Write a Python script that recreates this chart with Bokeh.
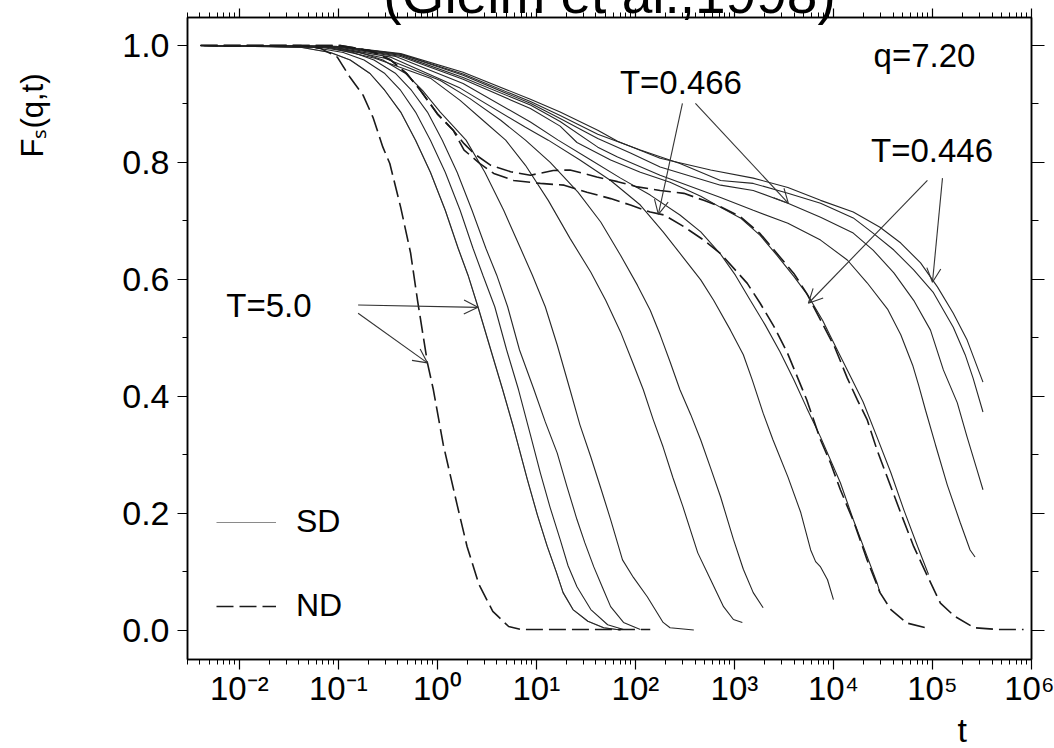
from bokeh.plotting import figure
from bokeh.models import (FixedTicker, LogAxis, LinearAxis, Range1d, Label, Arrow, Title,
                          OpenHead, Legend, LegendItem, NumeralTickFormatter)
from bokeh.embed import file_html
from bokeh.resources import INLINE

# ---------------- data: log10(t) and F_s(q,t) ----------------
# Newtonian dynamics (dashed)
nd_T5_logt = [-2.39, -1.38, -1.18, -1.01, -0.88, -0.75, -0.65, -0.55, -0.48, -0.37, -0.27, -0.20,
              -0.10, -0.04, 0.06, 0.20, 0.30, 0.42, 0.56, 0.72, 0.84, 2.15]
nd_T5_F = [1.0, 1.0, 0.995, 0.980, 0.945, 0.915, 0.877, 0.826, 0.798, 0.723, 0.645, 0.564,
           0.457, 0.411, 0.317, 0.214, 0.143, 0.078, 0.032, 0.006, 0.001, 0.001]

nd_T0466_logt = [-2.39, -0.98, -0.68, -0.47, -0.31, -0.17, 0.00, 0.16, 0.27, 0.43, 0.57, 0.77, 1.04,
                 1.28, 1.51, 1.75, 1.95, 2.15, 2.29, 2.49, 2.69, 2.86, 3.13, 3.26, 3.40, 3.53, 3.64,
                 3.73, 3.87, 3.97, 4.07, 4.21, 4.34, 4.47, 4.58, 4.74, 4.98]
nd_T0466_F = [1.0, 1.0, 0.991, 0.975, 0.952, 0.923, 0.883, 0.855, 0.821, 0.798, 0.781, 0.769, 0.764,
              0.761, 0.749, 0.738, 0.727, 0.715, 0.710, 0.690, 0.667, 0.644, 0.593, 0.559, 0.519,
              0.476, 0.431, 0.394, 0.325, 0.286, 0.240, 0.183, 0.120, 0.064, 0.035, 0.012, 0.002]

nd_T0446_logt = [-2.39, -0.98, -0.68, -0.47, -0.31, -0.17, 0.00, 0.16, 0.27, 0.37, 0.54, 0.74, 0.94,
                 1.17, 1.34, 1.61, 1.82, 2.02, 2.25, 2.49, 2.69, 2.86, 3.06, 3.26, 3.43, 3.60, 3.73,
                 3.87, 4.01, 4.14, 4.24, 4.34, 4.44, 4.54, 4.68, 4.81, 4.95, 5.08, 5.22, 5.42, 5.65, 5.92]
nd_T0446_F = [1.0, 1.0, 0.991, 0.975, 0.952, 0.923, 0.883, 0.855, 0.832, 0.815, 0.795, 0.784, 0.778,
              0.786, 0.787, 0.775, 0.767, 0.758, 0.752, 0.747, 0.735, 0.724, 0.707, 0.678, 0.644,
              0.610, 0.576, 0.530, 0.485, 0.431, 0.394, 0.360, 0.308, 0.263, 0.200, 0.143, 0.092,
              0.046, 0.024, 0.004, 0.001, 0.001]

# Stochastic dynamics (solid), from the fastest to the slowest curve
sd01_logt = [-2.39, -1.38, -1.08, -0.88, -0.68, -0.53, -0.37, -0.22, -0.07, 0.08, 0.21, 0.31, 0.41,
             0.54, 0.66, 0.77, 0.91, 1.01, 1.11, 1.20, 1.27, 1.37, 1.52, 1.68, 1.85]
sd01_F = [1.0, 0.997, 0.988, 0.975, 0.952, 0.923, 0.886, 0.838, 0.783, 0.718, 0.653, 0.607, 0.553,
          0.479, 0.411, 0.346, 0.257, 0.197, 0.143, 0.100, 0.064, 0.035, 0.015, 0.004, 0.0]

sd02_logt = [-2.39, -1.26, -0.95, -0.74, -0.53, -0.37, -0.22, -0.07, 0.08, 0.23, 0.36, 0.46, 0.58,
             0.70, 0.82, 0.94, 1.04, 1.14, 1.24, 1.32, 1.41, 1.55, 1.72, 1.88]
sd02_F = [1.0, 0.997, 0.988, 0.975, 0.952, 0.923, 0.886, 0.838, 0.783, 0.718, 0.653, 0.607, 0.553,
          0.479, 0.411, 0.334, 0.269, 0.209, 0.155, 0.110, 0.074, 0.035, 0.009, 0.001]

sd03_logt = [-2.39, -1.18, -0.85, -0.64, -0.42, -0.26, -0.10, 0.05, 0.20, 0.35, 0.49, 0.60, 0.71,
             0.83, 0.97, 1.09, 1.21, 1.31, 1.41, 1.49, 1.58, 1.67, 1.75, 1.88, 2.05]
sd03_F = [1.0, 0.997, 0.988, 0.975, 0.952, 0.923, 0.886, 0.838, 0.783, 0.718, 0.653, 0.607, 0.553,
          0.479, 0.414, 0.356, 0.303, 0.245, 0.189, 0.149, 0.108, 0.072, 0.040, 0.013, 0.001]

sd04_logt = [-2.39, -1.13, -0.78, -0.55, -0.32, -0.15, 0.03, 0.29, 0.48, 0.67, 0.84, 0.96, 1.09,
             1.21, 1.34, 1.44, 1.55, 1.65, 1.75, 1.87, 1.98, 2.12, 2.28, 2.35, 2.59]
sd04_F = [1.0, 0.997, 0.988, 0.975, 0.952, 0.923, 0.886, 0.838, 0.783, 0.718, 0.653, 0.607, 0.553,
          0.488, 0.411, 0.351, 0.296, 0.243, 0.189, 0.120, 0.090, 0.057, 0.013, 0.004, 0.0]

sd05_logt = [-2.39, -1.13, -0.63, -0.07, 0.23, 0.48, 0.69, 0.89, 1.12, 1.34, 1.55, 1.70, 1.85, 1.97,
             2.08, 2.18, 2.28, 2.38, 2.48, 2.63, 2.76, 2.89, 2.99, 3.08]
sd05_F = [1.0, 0.998, 0.978, 0.944, 0.906, 0.869, 0.838, 0.795, 0.735, 0.670, 0.612, 0.564, 0.510,
          0.459, 0.411, 0.360, 0.313, 0.260, 0.211, 0.132, 0.086, 0.040, 0.018, 0.013]

sd06_logt = [-2.39, -1.08, -0.53, 0.03, 0.33, 0.64, 0.89, 1.14, 1.42, 1.65, 1.85, 2.02, 2.15, 2.25,
             2.35, 2.45, 2.56, 2.66, 2.76, 2.86, 2.99, 3.09, 3.19, 3.29]
sd06_F = [1.0, 0.998, 0.978, 0.940, 0.909, 0.872, 0.838, 0.800, 0.749, 0.698, 0.641, 0.590, 0.547,
          0.505, 0.459, 0.411, 0.368, 0.325, 0.277, 0.228, 0.155, 0.104, 0.064, 0.038]

sd07_logt = [-2.39, -1.08, -0.47, 0.23, 0.89, 1.12, 1.44, 1.75, 2.05, 2.28, 2.48, 2.66, 2.79, 2.96,
             3.09, 3.18, 3.29, 3.39, 3.54, 3.67, 3.77, 3.82, 3.87, 3.94, 4.00]
sd07_F = [1.0, 0.998, 0.980, 0.927, 0.860, 0.838, 0.804, 0.769, 0.727, 0.681, 0.638, 0.599, 0.564,
          0.513, 0.471, 0.428, 0.371, 0.325, 0.262, 0.201, 0.137, 0.117, 0.108, 0.086, 0.052]

sd08_logt = [-2.39, -1.03, -0.42, 0.26, 0.94, 1.22, 1.55, 1.85, 2.15, 2.45, 2.66, 2.86, 3.01, 3.16,
             3.31, 3.46, 3.60, 3.73, 3.87, 4.07, 4.20, 4.34, 4.44, 4.47]
sd08_F = [1.0, 0.998, 0.981, 0.935, 0.869, 0.838, 0.804, 0.773, 0.744, 0.710, 0.681, 0.643, 0.607,
          0.564, 0.522, 0.476, 0.428, 0.380, 0.330, 0.252, 0.189, 0.126, 0.081, 0.064]

sd09_logt = [-2.39, -0.98, -0.37, 0.26, 0.94, 1.24, 1.41, 1.75, 2.05, 2.35, 2.66, 2.86, 3.06, 3.26,
             3.43, 3.60, 3.74, 3.89, 4.03, 4.18, 4.30, 4.44, 4.58, 4.71, 4.85, 4.96]
sd09_F = [1.0, 0.998, 0.981, 0.942, 0.892, 0.862, 0.834, 0.804, 0.783, 0.766, 0.742, 0.723, 0.705,
          0.675, 0.641, 0.605, 0.573, 0.530, 0.482, 0.431, 0.390, 0.330, 0.269, 0.206, 0.143, 0.095]

sd10_logt = [-2.39, -0.98, -0.37, 0.26, 0.94, 1.24, 1.62, 1.82, 2.25, 2.86, 3.19, 3.54, 3.87, 4.14,
             4.34, 4.55, 4.68, 4.80, 4.86, 4.93, 5.03, 5.15, 5.28, 5.38, 5.43]
sd10_F = [1.0, 0.998, 0.983, 0.945, 0.898, 0.870, 0.826, 0.809, 0.778, 0.740, 0.718, 0.696, 0.667,
          0.633, 0.594, 0.548, 0.505, 0.453, 0.419, 0.376, 0.317, 0.248, 0.184, 0.137, 0.125]

sd11_logt = [-2.39, -0.98, -0.37, 0.26, 0.94, 1.24, 1.62, 1.95, 2.25, 2.86, 3.19, 3.54, 3.87, 4.20,
             4.40, 4.61, 4.81, 4.98, 5.11, 5.25, 5.35, 5.45, 5.51]
sd11_F = [1.0, 0.998, 0.985, 0.949, 0.901, 0.875, 0.841, 0.816, 0.792, 0.761, 0.752, 0.730, 0.706,
          0.679, 0.650, 0.611, 0.564, 0.513, 0.445, 0.389, 0.330, 0.274, 0.240]

sd12_logt = [-2.39, -0.98, -0.37, 0.26, 0.94, 1.24, 1.62, 2.05, 2.45, 2.86, 3.19, 3.54, 3.87, 4.20,
             4.40, 4.61, 4.81, 5.01, 5.21, 5.33, 5.41, 5.51]
sd12_F = [1.0, 0.998, 0.985, 0.951, 0.904, 0.880, 0.848, 0.821, 0.798, 0.769, 0.764, 0.747, 0.730,
          0.705, 0.679, 0.650, 0.616, 0.577, 0.518, 0.471, 0.431, 0.373]

sd13_logt = [-2.39, -0.98, -0.37, 0.26, 0.94, 1.24, 1.62, 1.82, 2.25, 2.76, 3.19, 3.54, 3.87, 4.20,
             4.47, 4.68, 4.88, 5.05, 5.21, 5.35, 5.51]
sd13_F = [1.0, 0.998, 0.986, 0.954, 0.908, 0.886, 0.855, 0.836, 0.807, 0.787, 0.773, 0.757, 0.735,
          0.715, 0.689, 0.662, 0.628, 0.587, 0.542, 0.496, 0.424]

# axis ticks and labels
x_major = [1e-2, 1e-1, 1.0, 1e1, 1e2, 1e3, 1e4, 1e5, 1e6]
x_labels = ["10\u207b\u00b2", "10\u207b\u00b9", "10\u2070", "10\u00b9", "10\u00b2",
            "10\u00b3", "10\u2074", "10\u2075", "10\u2076"]
y_major = [0.0, 0.2, 0.4, 0.6, 0.8, 1.0]
y_minor = [0.1, 0.3, 0.5, 0.7, 0.9]

# annotations: (text, log10 t, F at text centre)
notes = [("q=7.20", 4.92, 0.983), ("T=0.466", 2.46, 0.937), ("T=0.446", 4.995, 0.821),
         ("T=5.0", -1.70, 0.556)]
# arrows: log10 t start, F start, log10 t end, F end
arrows = [(-0.80, 0.556, 0.41, 0.552), (-0.80, 0.542, -0.10, 0.457),
          (2.475, 0.901, 2.232, 0.711), (2.606, 0.901, 3.545, 0.730),
          (4.949, 0.769, 3.747, 0.559), (5.101, 0.773, 5.0, 0.595)]

FONT = "Liberation Sans"
SHIFT = 20  # canvas extends this far above the window so the title is cut like the original


def tt(v):
    return [10.0 ** a for a in v]


p = figure(width=1054, height=748 + SHIFT, x_axis_type="log",
           x_range=Range1d(0.003, 1e6), y_range=Range1d(-0.0504, 1.0478),
           output_backend="svg", toolbar_location=None,
           min_border_left=187, min_border_right=23, min_border_top=17 + SHIFT,
           min_border_bottom=88)
p.margin = (-SHIFT, 0, 0, 0)
p.grid.visible = False
p.outline_line_color = "black"
p.outline_line_width = 1.5
p.background_fill_color = "white"
p.border_fill_color = "white"

minor_x = [m * 10.0 ** k for k in range(-3, 6) for m in range(2, 10) if m * 10.0 ** k >= 0.003]
xt = FixedTicker(ticks=x_major, minor_ticks=minor_x)
yt = FixedTicker(ticks=y_major, minor_ticks=y_minor)


def style(ax, major_out, minor_out):
    ax.axis_line_color = "black"
    ax.axis_line_width = 1.5
    ax.major_tick_line_color = "black"
    ax.minor_tick_line_color = "black"
    ax.major_tick_line_width = 1.2
    ax.minor_tick_line_width = 1.0
    ax.major_tick_in = 0
    ax.minor_tick_in = 0
    ax.major_tick_out = major_out
    ax.minor_tick_out = minor_out
    ax.major_label_text_font = FONT
    ax.major_label_text_color = "black"


xa = p.xaxis[0]
xa.ticker = xt
xa.major_label_overrides = dict(zip(x_major, x_labels))
style(xa, 10, 5)
xa.major_label_text_font_size = "33px"
xa.major_label_standoff = 0

ya = p.yaxis[0]
ya.ticker = yt
ya.formatter = NumeralTickFormatter(format="0.0")
style(ya, 10, 5)
ya.major_label_text_font_size = "34px"
ya.major_label_standoff = 8

top = LogAxis(ticker=xt)
style(top, 9, 5)
top.major_label_text_font_size = "1px"
top.major_label_text_color = None
top.major_label_standoff = 0
p.add_layout(top, "above")

right = LinearAxis(ticker=yt)
style(right, 13, 7)
right.major_label_text_font_size = "1px"
right.major_label_text_color = None
right.major_label_standoff = 0
p.add_layout(right, "right")

SD_COLOR = "#262626"
ND_COLOR = "#1a1a1a"

# lighter key line for the SD legend entry (drawn under the first SD curve)
sd_key = p.line(tt(sd01_logt), sd01_F, line_color="#8a8a8a", line_width=1.1)

sd_sets = [(sd01_logt, sd01_F), (sd02_logt, sd02_F), (sd03_logt, sd03_F), (sd04_logt, sd04_F),
           (sd05_logt, sd05_F), (sd06_logt, sd06_F), (sd07_logt, sd07_F), (sd08_logt, sd08_F),
           (sd09_logt, sd09_F), (sd10_logt, sd10_F), (sd11_logt, sd11_F), (sd12_logt, sd12_F),
           (sd13_logt, sd13_F)]
for lt, fv in sd_sets:
    p.line(tt(lt), fv, line_color=SD_COLOR, line_width=1.1)

nd_renderers = []
for lt, fv in [(nd_T5_logt, nd_T5_F), (nd_T0466_logt, nd_T0466_F), (nd_T0446_logt, nd_T0446_F)]:
    r = p.line(tt(lt), fv, line_color=ND_COLOR, line_width=1.6, line_dash="17 6")
    nd_renderers.append(r)

legend = Legend(items=[LegendItem(label="SD", renderers=[sd_key]),
                       LegendItem(label="ND", renderers=[nd_renderers[0]])],
                location=(29, 35), orientation="vertical",
                glyph_width=60, glyph_height=36, label_height=36, label_standoff=20,
                spacing=47, padding=0, margin=0,
                border_line_color=None, background_fill_alpha=0,
                label_text_font=FONT, label_text_font_size="32px", label_text_color="black")
p.add_layout(legend)

for text, lx, fy in notes:
    p.add_layout(Label(x=10.0 ** lx, y=fy, text=text, text_align="center",
                       text_baseline="middle", text_font=FONT, text_font_size="33px",
                       text_color="black"))

for x0, y0, x1, y1 in arrows:
    p.add_layout(Arrow(x_start=10.0 ** x0, y_start=y0, x_end=10.0 ** x1, y_end=y1,
                       line_color="#333333", line_width=1.1,
                       end=OpenHead(size=14, line_color="#333333", line_width=1.1)))

# axis titles, placed like the original (near the top of the y axis, near the right of the x axis)
p.add_layout(Title(text="F\u209b(q,t)\n\u00a0\n\u00a0", align="right", offset=56, standoff=0,
                   text_font=FONT, text_font_size="31px", text_font_style="normal",
                   text_color="black"), "left")
p.add_layout(Title(text="t", align="left", offset=770, standoff=-1, vertical_align="bottom",
                   text_font=FONT, text_font_size="34px", text_font_style="normal",
                   text_color="black"), "below")
# title, partly cut off at the top edge as in the original
p.add_layout(Title(text="(Gleim et al.,1998)", align="center", standoff=-36, vertical_align="top",
                   text_font=FONT, text_font_size="55px", text_font_style="normal",
                   text_color="black"), "above")

with open("out.html", "w") as f:
    f.write(file_html(p, INLINE))
